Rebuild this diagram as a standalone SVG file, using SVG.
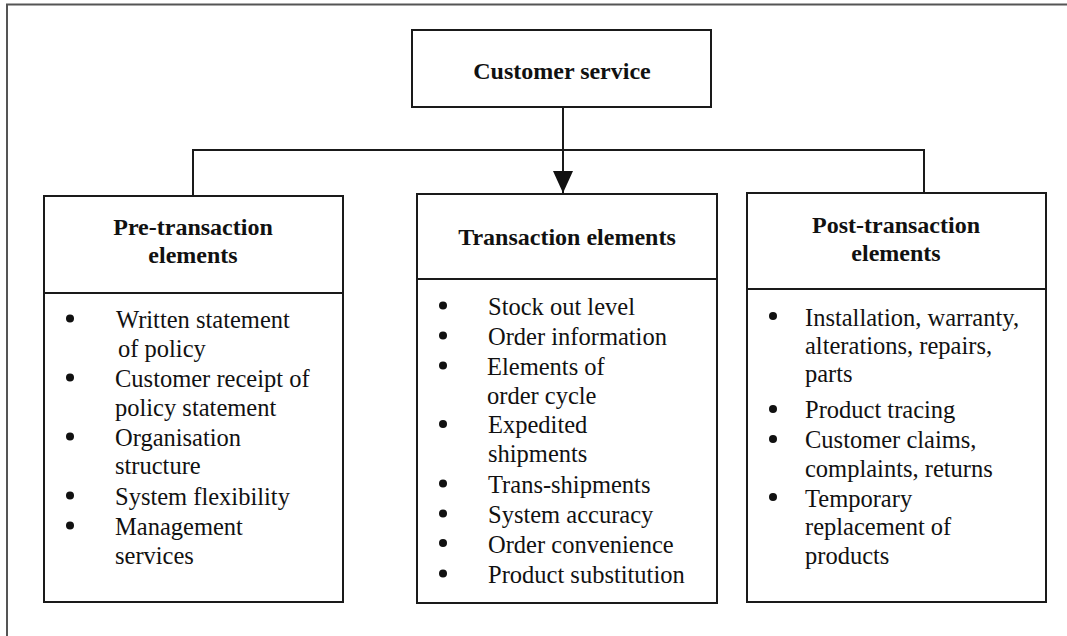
<svg xmlns="http://www.w3.org/2000/svg" width="1067" height="636" viewBox="0 0 1067 636">
<style>
.box{fill:#fff;stroke:#1a1a1a;stroke-width:2}
.ln{fill:none;stroke:#1a1a1a;stroke-width:2}
.h{font-family:"Liberation Serif","Times New Roman",serif;font-weight:bold;font-size:24px;fill:#111;text-anchor:middle}
.t{font-family:"Liberation Serif","Times New Roman",serif;font-size:24.5px;fill:#111}
.b{fill:#111}
</style>
<defs>
<marker id="arr" markerWidth="22" markerHeight="20" refX="22" refY="10" orient="auto" markerUnits="userSpaceOnUse" viewBox="0 0 22 20">
<path d="M0,0 L22,10 L0,20 Z" fill="#111"/>
</marker>
</defs>
<rect width="1067" height="636" fill="#fff"/>
<path d="M7,636 V4.5 H1067" fill="none" stroke="#555" stroke-width="2"/>
<g id="connectors">
<path class="ln" d="M193,195 V150 H924 V193"/>
<line class="ln" x1="563" y1="107" x2="563" y2="193" marker-end="url(#arr)"/>
</g>
<g id="customer-service">
<rect class="box" x="412" y="30" width="299" height="77"/>
<text class="h" x="562" y="79">Customer service</text>
</g>
<g id="pre-transaction">
<rect class="box" x="44" y="196" width="299" height="406"/>
<line class="ln" x1="44" y1="293" x2="343" y2="293"/>
<text class="h" x="193" y="235">Pre-transaction</text>
<text class="h" x="193" y="263">elements</text>
<circle class="b" cx="70" cy="318.5" r="4"/>
<circle class="b" cx="70" cy="377.5" r="4"/>
<circle class="b" cx="70" cy="436.5" r="4"/>
<circle class="b" cx="70" cy="495.5" r="4"/>
<circle class="b" cx="70" cy="525.5" r="4"/>
<text class="t" x="116" y="328">Written statement</text>
<text class="t" x="118" y="357">of policy</text>
<text class="t" x="115" y="387">Customer receipt of</text>
<text class="t" x="115" y="416">policy statement</text>
<text class="t" x="115" y="446">Organisation</text>
<text class="t" x="115" y="474">structure</text>
<text class="t" x="115" y="505">System flexibility</text>
<text class="t" x="115" y="535">Management</text>
<text class="t" x="115" y="564">services</text>
</g>
<g id="transaction">
<rect class="box" x="417" y="194" width="300" height="409"/>
<line class="ln" x1="417" y1="279" x2="717" y2="279"/>
<text class="h" x="567" y="245">Transaction elements</text>
<circle class="b" cx="443" cy="305.5" r="4"/>
<circle class="b" cx="443" cy="335.5" r="4"/>
<circle class="b" cx="443" cy="365.5" r="4"/>
<circle class="b" cx="443" cy="424" r="4"/>
<circle class="b" cx="443" cy="483.5" r="4"/>
<circle class="b" cx="443" cy="513.5" r="4"/>
<circle class="b" cx="443" cy="543" r="4"/>
<circle class="b" cx="443" cy="573.5" r="4"/>
<text class="t" x="488" y="315">Stock out level</text>
<text class="t" x="488" y="345">Order information</text>
<text class="t" x="487" y="375">Elements of</text>
<text class="t" x="487" y="404">order cycle</text>
<text class="t" x="488" y="433">Expedited</text>
<text class="t" x="488" y="462">shipments</text>
<text class="t" x="488" y="493">Trans-shipments</text>
<text class="t" x="488" y="523">System accuracy</text>
<text class="t" x="488" y="553">Order convenience</text>
<text class="t" x="488" y="583">Product substitution</text>
</g>
<g id="post-transaction">
<rect class="box" x="747" y="193" width="299" height="409"/>
<line class="ln" x1="747" y1="289" x2="1046" y2="289"/>
<text class="h" x="896" y="233">Post-transaction</text>
<text class="h" x="896" y="261">elements</text>
<circle class="b" cx="773" cy="316" r="4"/>
<circle class="b" cx="773" cy="409" r="4"/>
<circle class="b" cx="773" cy="439" r="4"/>
<circle class="b" cx="773" cy="497" r="4"/>
<text class="t" x="805" y="326">Installation, warranty,</text>
<text class="t" x="805" y="354">alterations, repairs,</text>
<text class="t" x="805" y="382">parts</text>
<text class="t" x="805" y="418">Product tracing</text>
<text class="t" x="805" y="448">Customer claims,</text>
<text class="t" x="805" y="477">complaints, returns</text>
<text class="t" x="805" y="507">Temporary</text>
<text class="t" x="805" y="535">replacement of</text>
<text class="t" x="805" y="564">products</text>
</g>
</svg>
